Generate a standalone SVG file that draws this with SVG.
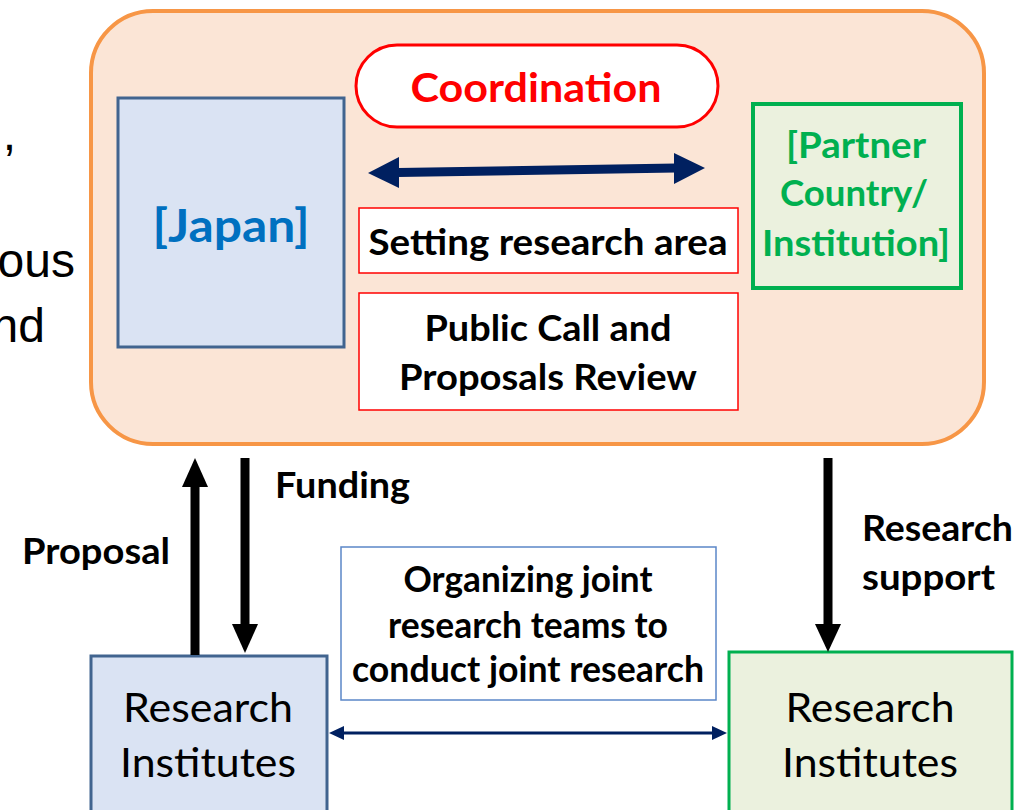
<svg xmlns="http://www.w3.org/2000/svg" width="1036" height="810" viewBox="0 0 1036 810">
<style>
.b{font-family:Lato,"Open Sans","Liberation Sans",sans-serif;font-weight:bold;text-anchor:middle;font-size:36px;fill:#000}
.r{font-family:Lato,"Open Sans","Liberation Sans",sans-serif;text-anchor:middle;font-size:40px;fill:#000}
.cut{font-family:"Liberation Sans",Arial,sans-serif;font-size:48px;fill:#000;text-anchor:end}
</style>
<rect width="1036" height="810" fill="#fff"/>
<g id="cut-text">
<text class="cut" x="16" y="150">,</text>
<text class="cut" x="75" y="277">ous</text>
<text class="cut" x="45" y="342">nd</text>
</g>
<g id="coordination-frame">
<rect x="91" y="11" width="893" height="433" rx="62" fill="#FBE5D6" stroke="#F79646" stroke-width="4"/>
</g>
<g id="japan">
<rect x="118" y="98" width="226" height="249" fill="#DAE3F3" stroke="#41648F" stroke-width="3"/>
<text class="b" x="231" y="242" textLength="157" lengthAdjust="spacingAndGlyphs" style="font-size:46px;fill:#0070C0">[Japan]</text>
</g>
<g id="coordination">
<rect x="356" y="45" width="362" height="82" rx="41" fill="#fff" stroke="#FF0000" stroke-width="3"/>
<text class="b" x="536" y="102" textLength="251" lengthAdjust="spacingAndGlyphs" style="font-size:41px;fill:#FF0000">Coordination</text>
</g>
<g id="partner">
<rect x="753" y="104" width="208" height="184" fill="#EBF1DE" stroke="#00B050" stroke-width="4"/>
<text class="b" x="856" y="158" textLength="140" lengthAdjust="spacingAndGlyphs" style="fill:#00B050">[Partner</text>
<text class="b" x="854" y="206" textLength="148" lengthAdjust="spacingAndGlyphs" style="fill:#00B050">Country/</text>
<text class="b" x="856" y="256" textLength="188" lengthAdjust="spacingAndGlyphs" style="fill:#00B050">Institution]</text>
</g>
<g id="setting">
<rect x="359" y="208" width="379" height="65" fill="#fff" stroke="#FF0000" stroke-width="1.5"/>
<text class="b" x="548" y="255" textLength="359" lengthAdjust="spacingAndGlyphs">Setting research area</text>
</g>
<g id="public-call">
<rect x="359" y="293" width="379" height="117" fill="#fff" stroke="#FF0000" stroke-width="1.5"/>
<text class="b" x="548" y="341" textLength="247" lengthAdjust="spacingAndGlyphs">Public Call and</text>
<text class="b" x="548" y="390" textLength="298" lengthAdjust="spacingAndGlyphs">Proposals Review</text>
</g>
<g id="organizing">
<rect x="341" y="547" width="375" height="153" fill="#fff" stroke="#5B87C8" stroke-width="1.5"/>
<text class="b" x="528" y="592" textLength="249" lengthAdjust="spacingAndGlyphs">Organizing joint</text>
<text class="b" x="528" y="638" textLength="280" lengthAdjust="spacingAndGlyphs">research teams to</text>
<text class="b" x="528" y="682" textLength="352" lengthAdjust="spacingAndGlyphs">conduct joint research</text>
</g>
<g id="ri-japan">
<rect x="91" y="656" width="236" height="170" fill="#DAE3F3" stroke="#41648F" stroke-width="3"/>
<text class="r" x="208" y="722" textLength="170" lengthAdjust="spacingAndGlyphs">Research</text>
<text class="r" x="208" y="777" textLength="176" lengthAdjust="spacingAndGlyphs">Institutes</text>
</g>
<g id="ri-partner">
<rect x="729" y="652" width="283" height="170" fill="#EBF1DE" stroke="#00B050" stroke-width="3"/>
<text class="r" x="870" y="722" textLength="169" lengthAdjust="spacingAndGlyphs">Research</text>
<text class="r" x="870" y="777" textLength="176" lengthAdjust="spacingAndGlyphs">Institutes</text>
</g>
<g id="labels">
<text class="b" x="342.5" y="498" textLength="135" lengthAdjust="spacingAndGlyphs">Funding</text>
<text class="b" x="96" y="564" textLength="148" lengthAdjust="spacingAndGlyphs">Proposal</text>
<text class="b" x="937.5" y="541" textLength="151" lengthAdjust="spacingAndGlyphs">Research</text>
<text class="b" x="928.5" y="590" textLength="133" lengthAdjust="spacingAndGlyphs">support</text>
</g>
<g id="connectors">
<path d="M398,172.5L676,168" stroke="#002060" stroke-width="9" fill="none"/>
<path d="M368,173L399,157L399,188z" fill="#002060"/>
<path d="M705,168L674,153L674,184z" fill="#002060"/>
<path d="M195,655L195,487" stroke="#000" stroke-width="9"/>
<path d="M195,458L182,487L208,487z" fill="#000"/>
<path d="M245,458L245,625" stroke="#000" stroke-width="9"/>
<path d="M245,653L232,624L258,624z" fill="#000"/>
<path d="M828,458L828,625" stroke="#000" stroke-width="9"/>
<path d="M828,652L815,624L841,624z" fill="#000"/>
<path d="M342,733L713,733" stroke="#002060" stroke-width="3"/>
<path d="M329,733L344,726L344,740z" fill="#002060"/>
<path d="M727,733L712,726L712,740z" fill="#002060"/>
</g>
</svg>
